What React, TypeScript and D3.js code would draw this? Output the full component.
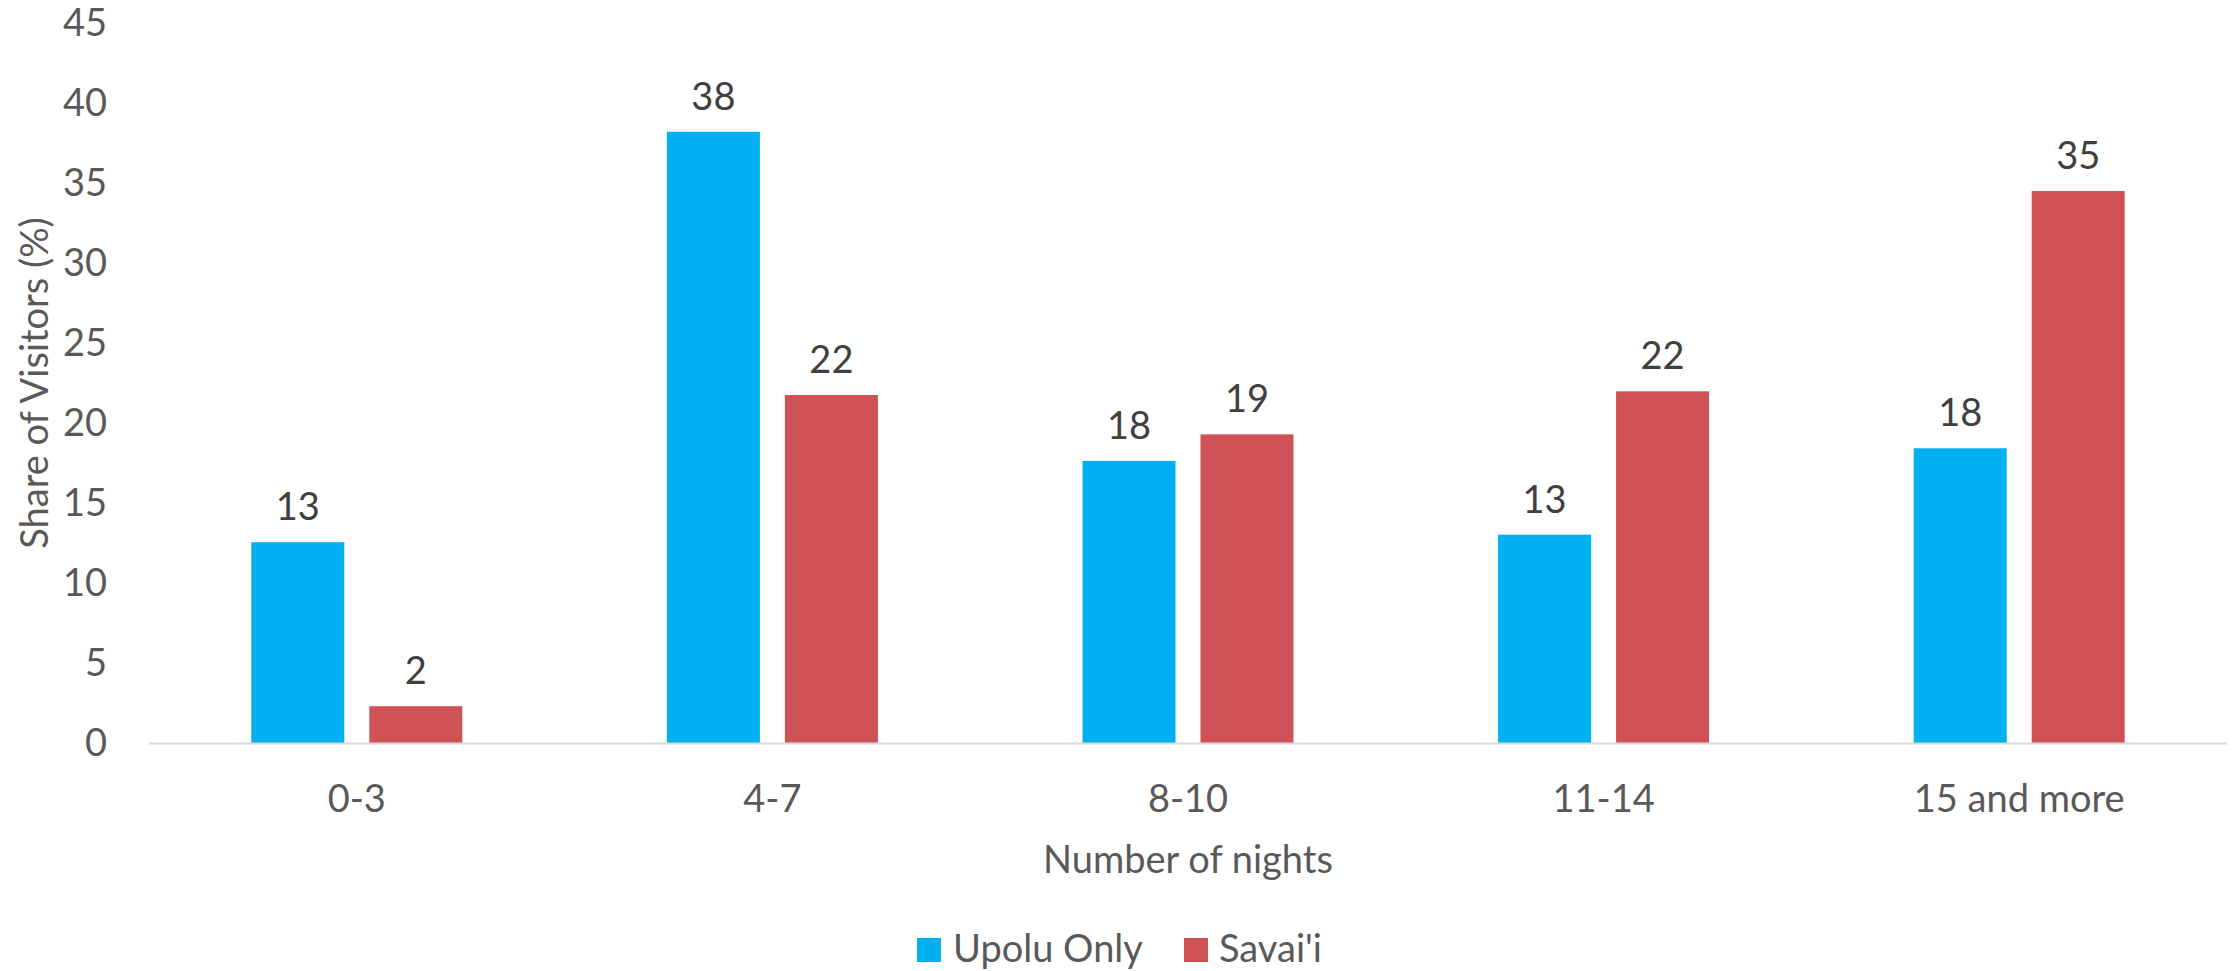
import React from "react";
import * as d3 from "d3";

const categories = ["0-3", "4-7", "8-10", "11-14", "15 and more"];
const upoluOnly = [12.55, 38.2, 17.63, 13.02, 18.42];
const savaii = [2.3, 21.75, 19.29, 21.98, 34.5];
const seriesNames = ["Upolu Only", "Savai'i"];
const yTicks = [0, 5, 10, 15, 20, 25, 30, 35, 40, 45];
const yTitle = "Share of Visitors (%)";
const xTitle = "Number of nights";

const W = 2237;
const H = 971;
const FONT = "Lato, 'Open Sans', sans-serif";
const COLORS = ["#00B0F0", "#CF5256"];

export default function App() {
  const plot = { left: 149, right: 2227, top: 23, bottom: 743 };
  const x = d3.scaleBand<string>().domain(categories).range([plot.left, plot.right]).padding(0);
  const y = d3.scaleLinear().domain([0, 45]).range([plot.bottom, plot.top]);
  const barW = 93;
  const gap = 25;
  const series = [upoluOnly, savaii];
  const fs = 38;

  return (
    <svg
      width={W}
      height={H}
      viewBox={`0 0 ${W} ${H}`}
      style={{ position: "absolute", left: 0, top: 0, background: "#fff" }}
      fontFamily={FONT}
    >
      <rect x={0} y={0} width={W} height={H} fill="#fff" />
      {yTicks.map((t) => (
        <text key={t} x={107} y={y(t)} dy="0.35em" textAnchor="end" fontSize={fs} fill="#595959">
          {t}
        </text>
      ))}
      {series.map((vals, si) =>
        vals.map((v, i) => {
          const c = categories[i];
          const center = (x(c) as number) + x.bandwidth() / 2;
          const bx = si === 0 ? center - gap / 2 - barW : center + gap / 2;
          return (
            <g key={`${si}-${i}`}>
              <rect x={bx} y={y(v)} width={barW} height={y(0) - y(v)} fill={COLORS[si]} />
              <text x={bx + barW / 2} y={y(v) - 22} textAnchor="middle" fontSize={fs} fill="#404040">
                {Math.round(v)}
              </text>
            </g>
          );
        })
      )}
      <line x1={plot.left} x2={plot.right} y1={y(0) + 0.5} y2={y(0) + 0.5} stroke="#D9D9D9" strokeWidth={2} />
      {categories.map((c) => (
        <text key={c} x={(x(c) as number) + x.bandwidth() / 2} y={812} textAnchor="middle" fontSize={fs} fill="#595959">
          {c}
        </text>
      ))}
      <text x={(plot.left + plot.right) / 2} y={873} textAnchor="middle" fontSize={fs} fill="#595959">
        {xTitle}
      </text>
      <text
        transform={`translate(48, ${(plot.top + plot.bottom) / 2}) rotate(-90)`}
        textAnchor="middle"
        fontSize={fs}
        fill="#595959"
      >
        {yTitle}
      </text>
      <rect x={917} y={938} width={24} height={24} fill={COLORS[0]} />
      <text x={953} y={962} fontSize={fs} fill="#595959">{seriesNames[0]}</text>
      <rect x={1184} y={938} width={24} height={24} fill={COLORS[1]} />
      <text x={1219} y={962} fontSize={fs} fill="#595959">{seriesNames[1]}</text>
    </svg>
  );
}
